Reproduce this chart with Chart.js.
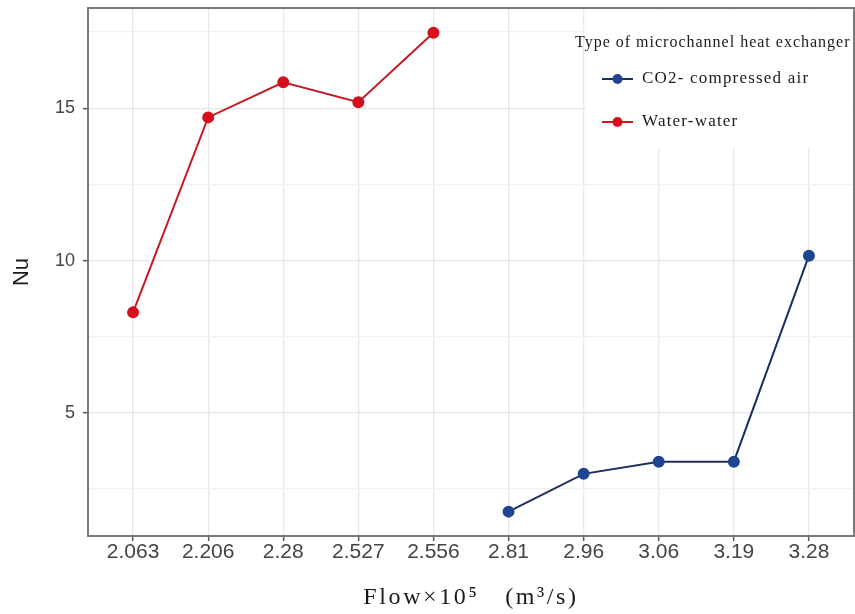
<!DOCTYPE html>
<html>
<head>
<meta charset="utf-8">
<script src="https://cdn.jsdelivr.net/npm/chart.js@4.4.0/dist/chart.umd.min.js"></script>
<style>
html,body{margin:0;padding:0;background:#fff;}
#wrap{width:855px;height:614px;position:relative;}
</style>
</head>
<body>
<div id="wrap"><canvas id="c" width="855" height="614"></canvas></div>
<script>
const categories = ['2.063','2.206','2.28','2.527','2.556','2.81','2.96','3.06','3.19','3.28'];
const waterWater = [8.3, 14.7, 15.85, 15.2, 17.48, null, null, null, null, null];
const co2Air = [null, null, null, null, null, 1.76, 3.0, 3.4, 3.4, 10.16];
const yTicks = [2.5, 5, 7.5, 10, 12.5, 15, 17.5];
const yLabels = {5:'5', 10:'10', 15:'15'};
const seriesNames = ['CO2- compressed air', 'Water-water'];
const legendTitle = 'Type of microchannel heat exchanger';
const xTitle = 'Flow×10\u2075   (m\u00B3/s)';

const toPoints = arr => arr.map((v,i)=> v===null ? null : {x:i, y:v}).filter(p=>p);
const SERIF = '"Liberation Serif", "Times New Roman", serif';

const panelPlugin = {
  id:'panel',
  beforeDatasetsDraw(chart){
    const ctx = chart.ctx;
    ctx.save();
    ctx.fillStyle = '#ffffff';
    ctx.fillRect(586, 10, 266, 138);
    ctx.restore();
  },
  afterDatasetsDraw(chart){
    const a = chart.chartArea, ctx = chart.ctx;
    ctx.save();
    ctx.strokeStyle = '#7a7a7a';
    ctx.lineWidth = 2;
    ctx.strokeRect(a.left, a.top, a.right - a.left, a.bottom - a.top);
    // legend
    ctx.fillStyle = '#1a1a1a';
    ctx.textBaseline = 'middle';
    ctx.textAlign = 'left';
    ctx.letterSpacing = '1px';
    ctx.font = '16px ' + SERIF;
    ctx.fillText(legendTitle, 575, 43);
    const ys = [79, 122];
    [0,1].forEach((di, k) => {
      const ds = chart.data.datasets[di];
      const y = ys[k];
      ctx.strokeStyle = ds.borderColor;
      ctx.lineWidth = 2;
      ctx.beginPath(); ctx.moveTo(602, y); ctx.lineTo(633, y); ctx.stroke();
      ctx.fillStyle = ds.pointBackgroundColor;
      ctx.beginPath(); ctx.arc(617.5, y, 5, 0, Math.PI*2); ctx.fill();
      ctx.fillStyle = '#1a1a1a';
      ctx.letterSpacing = '1.2px';
      ctx.font = '17px ' + SERIF;
      ctx.fillText(ds.label, 642, y);
    });
    // x-axis title
    ctx.letterSpacing = '2.6px';
    ctx.font = '24px ' + SERIF;
    ctx.textAlign = 'center';
    ctx.textBaseline = 'alphabetic';
    ctx.fillText(xTitle, (a.left + a.right)/2, 604);
    ctx.letterSpacing = '0px';
    ctx.restore();
  }
};

new Chart(document.getElementById('c'), {
  type:'line',
  data:{
    datasets:[
      {label:seriesNames[0], data:toPoints(co2Air), borderColor:'#1b2f5e', backgroundColor:'#1f4590',
       pointBackgroundColor:'#1f4590', pointBorderColor:'#1f4590', pointRadius:5, borderWidth:2, tension:0},
      {label:seriesNames[1], data:toPoints(waterWater), borderColor:'#c41a22', backgroundColor:'#d60f1c',
       pointBackgroundColor:'#d60f1c', pointBorderColor:'#d60f1c', pointRadius:5, borderWidth:2, tension:0}
    ]
  },
  options:{
    responsive:false,
    animation:false,
    layout:{autoPadding:false, padding:{left:9, right:1, top:8, bottom:0}},
    plugins:{legend:{display:false}, tooltip:{enabled:false}},
    scales:{
      x:{
        type:'linear', min:-0.6, max:9.6,
        afterBuildTicks(s){ s.ticks = categories.map((c,i)=>({value:i})); },
        afterFit(s){ s.height = 78; s.paddingLeft = 0; s.paddingRight = 0; },
        ticks:{ callback:(v)=>categories[v] ?? '', color:'#444', font:{family:'"Liberation Sans", Arial, sans-serif', size:21}, padding:-1, maxRotation:0, autoSkip:false },
        grid:{ color:'#e8e8e8', lineWidth:1.3, tickLength:5, tickColor:'#555', tickWidth:1.5 },
        border:{display:false},
        title:{ display:false }
      },
      y:{
        type:'linear', min:0.96, max:18.29,
        afterBuildTicks(s){ s.ticks = yTicks.map(v=>({value:v})); },
        afterFit(s){ s.width = 79; s.paddingTop = 0; s.paddingBottom = 0; },
        ticks:{ callback:(v)=> yLabels[v] ?? '', color:'#444', font:{family:'"Liberation Sans", Arial, sans-serif', size:18}, padding:8 },
        grid:{ color:(c)=> (c.tick && c.tick.value % 5 === 0) ? '#e6e6e6' : '#f1f1f1', lineWidth:1.3, tickLength:5,
               tickColor:(c)=> (c.tick && c.tick.value % 5 === 0) ? '#555' : 'rgba(0,0,0,0)', tickWidth:1.5 },
        border:{display:false},
        title:{ display:true, text:'Nu', color:'#1a1a1a', font:{family:'"Liberation Sans", Arial, sans-serif', size:22}, padding:{top:0,bottom:0} }
      }
    }
  },
  plugins:[panelPlugin]
});
</script>
</body>
</html>
